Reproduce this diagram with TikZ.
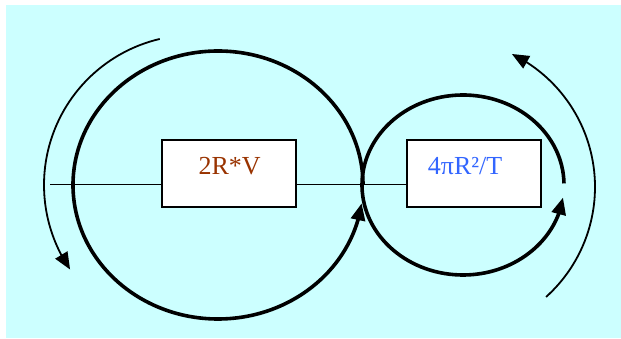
\documentclass[tikz,border=0pt]{standalone}
\usepackage{fontspec}
\setmainfont{Liberation Serif}
\usetikzlibrary{arrows.meta,bending}
\definecolor{bgcyan}{HTML}{CCFFFF}
\definecolor{txtbrown}{HTML}{993300}
\definecolor{txtblue}{HTML}{3366FF}
\tikzset{
  thickloop/.style={line width=3.6pt, -{Triangle[length=17pt,width=14pt]}},
  thinloop/.style={line width=1.8pt, -{Triangle[length=17pt,width=14pt]}},
  boxnode/.style={draw, fill=white, line width=1.7pt, minimum width=134pt, minimum height=67pt, inner sep=0pt},
  lbl/.style={inner sep=0pt, font=\fontsize{26}{30}\selectfont},
  wire/.style={line width=1.5pt}
}
\begin{document}
\begin{tikzpicture}[x=1pt,y=1pt]
\useasboundingbox (0,0) rectangle (621,339);
\fill[bgcyan] (6,1) rectangle (621,334);
% horizontal axis line
\coordinate (L) at (50,154.7);
\node[boxnode] (b1) at (229,165.5) {};
\node[boxnode] (b2) at (474,165.5) {};
\draw[wire] (L) -- (L -| b1.west);
\draw[wire] (b1.east |- L) -- (b2.west |- L);
% thick loops
\draw[thickloop] (218,154) ++(0:145 and 134) arc[start angle=0, end angle=352.15, x radius=145, y radius=134];
\draw[thickloop] (463,154) ++(1:101 and 90) arc[start angle=1, end angle=352, x radius=101, y radius=90];
% thin loops
\draw[thinloop] (194,154) ++(103.2:150) arc[start angle=103.2, end angle=214.3, radius=150];
\draw[thinloop] (447,152) ++(-48:148) arc[start angle=-48, end angle=64, radius=148];
% labels
\node[lbl, anchor=base, text=txtbrown] (t1) at (229.7,164) {2R*V};
\node[lbl, anchor=base west, text=txtblue] (t2) at (427.7,164) {4πR²/T};
\end{tikzpicture}
\end{document}
